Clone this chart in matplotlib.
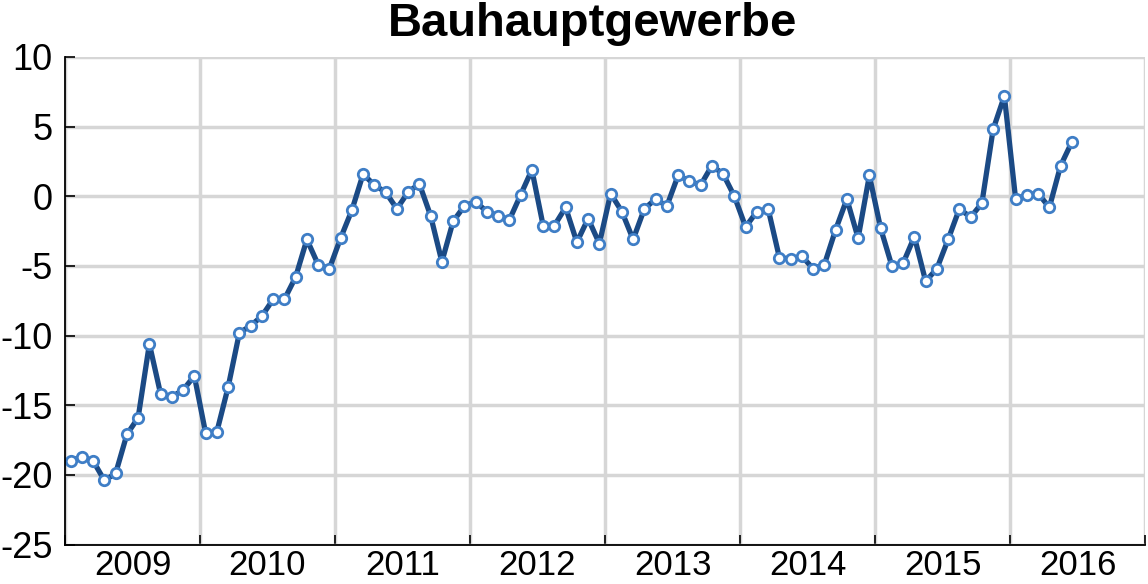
import numpy as np
import matplotlib
matplotlib.use('Agg')
import matplotlib.pyplot as plt

#Datos mensuales (Ene 2009 - Jun 2016)-----------------------------------------
start_year = 2009
values_2009 = [-19.0, -18.7, -19.0, -20.4, -19.9, -17.1, -15.9, -10.6, -14.2, -14.4, -13.9, -12.9]
values_2010 = [-17.0, -16.9, -13.7, -9.8, -9.3, -8.6, -7.4, -7.4, -5.8, -3.1, -4.9, -5.2]
values_2011 = [-3.0, -1.0, 1.6, 0.8, 0.3, -0.9, 0.3, 0.9, -1.4, -4.7, -1.8, -0.7]
values_2012 = [-0.4, -1.1, -1.4, -1.7, 0.1, 1.9, -2.1, -2.1, -0.8, -3.3, -1.6, -3.4]
values_2013 = [0.2, -1.1, -3.1, -0.9, -0.2, -0.7, 1.5, 1.1, 0.8, 2.2, 1.6, 0.0]
values_2014 = [-2.2, -1.1, -0.9, -4.4, -4.5, -4.3, -5.2, -4.9, -2.4, -0.2, -3.0, 1.5]
values_2015 = [-2.3, -5.0, -4.8, -2.9, -6.1, -5.2, -3.1, -0.9, -1.5, -0.5, 4.8, 7.2]
values_2016 = [-0.2, 0.1, 0.2, -0.8, 2.2, 3.9]

years = [2009, 2010, 2011, 2012, 2013, 2014, 2015, 2016]
title = 'Bauhauptgewerbe'

values = (values_2009 + values_2010 + values_2011 + values_2012 +
          values_2013 + values_2014 + values_2015 + values_2016)
# posicion en medio de cada mes
months = np.arange(len(values))
x = start_year + (months + 0.5) / 12.0

#Grafica-----------------------------------------------------------------------
plt.rcParams['font.family'] = ['Liberation Sans', 'DejaVu Sans']
plt.rcParams['axes.unicode_minus'] = False

fig = plt.figure(figsize=(11.48, 5.84), dpi=100)
ax = fig.add_axes([65 / 1148, 1 - 544.5 / 584, 1080 / 1148, 487.5 / 584])

ax.plot(x, values, color='#1b4a85', linewidth=3.8, zorder=3,
        marker='o', markersize=7.5, markerfacecolor='white',
        markeredgecolor='#3f7ec6', markeredgewidth=2.0)

ax.set_xlim(2009, 2017)
ax.set_ylim(-25, 10)

# lineas de anio y etiquetas al centro
ax.set_xticks(range(2009, 2018))
ax.set_xticklabels([])
ax.set_xticks([y + 0.5 for y in years], minor=True)
ax.set_xticklabels([str(y) for y in years], minor=True)
ax.set_yticks(range(-25, 11, 5))

ax.tick_params(axis='x', which='major', direction='in', length=7, width=1.2, color='black')
ax.tick_params(axis='x', which='minor', length=0, labelsize=25, pad=3)
ax.tick_params(axis='y', direction='in', length=7, width=1.2, color='black',
               labelsize=26, pad=9)

ax.grid(True, which='major', color='#d6d6d6', linewidth=2.5, zorder=0)
ax.set_axisbelow(True)

for side in ['top', 'right']:
    ax.spines[side].set_visible(False)
for side in ['left', 'bottom']:
    ax.spines[side].set_color('black')
    ax.spines[side].set_linewidth(1.3)
    ax.spines[side].set_zorder(4)

fig.text(593 / 1148, 1 - 36 / 584, title, ha='center', va='baseline',
         fontsize=34, fontweight='bold')

fig.savefig('out.png', dpi=100)
